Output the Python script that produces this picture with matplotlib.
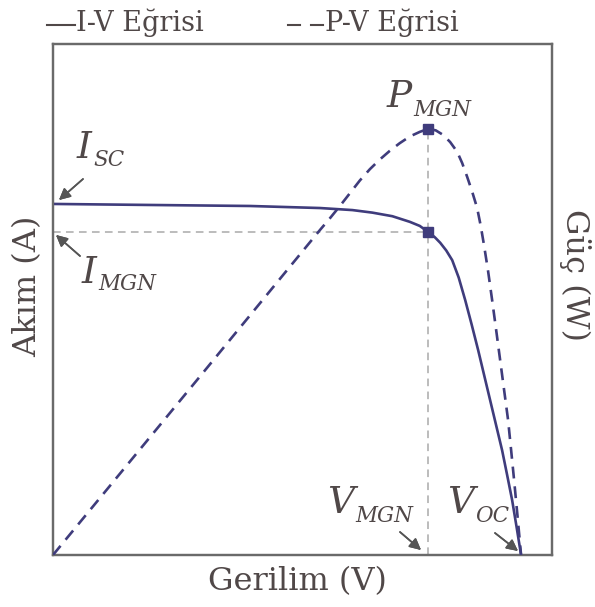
import matplotlib
matplotlib.use("Agg")
import matplotlib.pyplot as plt
from matplotlib.lines import Line2D

# I-V characteristic (normalised voltage / current)
voltage_iv = [0.0, 0.194, 0.395, 0.535, 0.600, 0.640, 0.680, 0.715, 0.735,
              0.752, 0.765, 0.776, 0.788, 0.800, 0.813, 0.826, 0.839, 0.852,
              0.864, 0.876, 0.888, 0.900, 0.910, 0.920, 0.929, 0.938]
current_iv = [0.687, 0.685, 0.683, 0.679, 0.675, 0.670, 0.663, 0.652, 0.644,
              0.632, 0.622, 0.611, 0.596, 0.577, 0.543, 0.499, 0.451, 0.401,
              0.352, 0.303, 0.254, 0.205, 0.157, 0.108, 0.055, 0.0]

# P-V characteristic (normalised voltage / power)
voltage_pv = [0.0, 0.295, 0.535, 0.555, 0.575, 0.595, 0.615, 0.635, 0.655,
              0.675, 0.695, 0.715, 0.735, 0.752, 0.767, 0.782, 0.796, 0.810,
              0.820, 0.830, 0.840, 0.850, 0.857, 0.864, 0.872, 0.880, 0.888,
              0.896, 0.904, 0.912, 0.918, 0.924, 0.931, 0.938]
power_pv = [0.0, 0.350, 0.636, 0.659, 0.683, 0.708, 0.733, 0.755, 0.774,
            0.791, 0.806, 0.819, 0.828, 0.834, 0.831, 0.822, 0.808, 0.789,
            0.767, 0.740, 0.711, 0.679, 0.645, 0.605, 0.555, 0.499, 0.441,
            0.382, 0.323, 0.264, 0.206, 0.147, 0.075, 0.0]

# Key operating points
v_mgn = 0.752
i_mgn = 0.632
p_mgn = 0.834
i_sc = 0.687
v_oc = 0.938

legend_labels = ["I-V Eğrisi", "P-V Eğrisi"]
x_label = "Gerilim (V)"
y_label_left = "Akım (A)"
y_label_right = "Güç (W)"

CURVE = "#3f3c7c"
TEXT = "#504848"
GUIDE = "#aaaaaa"
SPINE = "#6a6a6a"
FONT = "DejaVu Serif"

W, H = 595, 607
fig = plt.figure(figsize=(W / 100, H / 100), dpi=100)


def fp(x, y):
    """pixel position -> figure fraction"""
    return (x / W, 1 - y / H)


left, top, right, bottom = 53, 44, 552, 555
ax = fig.add_axes([left / W, 1 - bottom / H, (right - left) / W, (bottom - top) / H])
ax2 = ax.twinx()
for a in (ax, ax2):
    a.set_xlim(0, 1)
    a.set_ylim(0, 1)
    a.set_xticks([])
    a.set_yticks([])
    for s in a.spines.values():
        s.set_color(SPINE)
        s.set_linewidth(1.6)

# guide lines to the maximum power point
ax.plot([0, v_mgn], [i_mgn, i_mgn], color=GUIDE, lw=1.1, ls=(0, (5, 3.5)), zorder=1)
ax.plot([v_mgn, v_mgn], [0, p_mgn], color=GUIDE, lw=1.1, ls=(0, (5, 3.5)), zorder=1)

ax.plot(voltage_iv, current_iv, color=CURVE, lw=1.9, solid_joinstyle="round", zorder=3)
ax2.plot(voltage_pv, power_pv, color=CURVE, lw=1.9, ls=(0, (4.5, 3)),
         dash_joinstyle="round", zorder=3)
ax.plot([v_mgn], [i_mgn], marker="s", ms=7, color=CURVE, zorder=4)
ax2.plot([v_mgn], [p_mgn], marker="s", ms=7, color=CURVE, zorder=4)

# legend drawn across the top
fig.add_artist(Line2D([47 / W, 75 / W], [1 - 25 / H] * 2, color=TEXT, lw=1.5))
fig.text(76 / W, 1 - 31 / H, legend_labels[0], ha="left", va="baseline",
         fontsize=19.5, family=FONT, color=TEXT)
for x0, x1 in ((288, 300), (311, 323)):
    fig.add_artist(Line2D([x0 / W, x1 / W], [1 - 25 / H] * 2, color=TEXT, lw=1.5))
fig.text(325 / W, 1 - 31 / H, legend_labels[1], ha="left", va="baseline",
         fontsize=19.5, family=FONT, color=TEXT)

# axis titles
fig.text(*fp(297, 582), x_label, ha="center", va="center",
         fontsize=23, family=FONT, color=TEXT)
fig.text(*fp(28, 286), y_label_left, ha="center", va="center", rotation=90,
         fontsize=23, family=FONT, color=TEXT)
fig.text(*fp(575, 275), y_label_right, ha="center", va="center", rotation=-90,
         fontsize=23, family=FONT, color=TEXT)

# point labels: (main letter, subscript, letter x, baseline y, subscript baseline y)
labels = [
    ("I", "SC", 77, 158, 166),
    ("I", "MGN", 82, 283, 290),
    ("P", "MGN", 387, 107, 116),
    ("V", "MGN", 327, 513, 522),
    ("V", "OC", 447, 513, 522),
]
renderer = fig.canvas.get_renderer()
for main, sub, mx, my, sy in labels:
    t = fig.text(mx / W, 1 - my / H, main, ha="left", va="baseline", fontsize=27,
                 family=FONT, style="italic", color=TEXT)
    x_end = t.get_window_extent(renderer).x1
    fig.text((x_end + 1) / W, 1 - sy / H, sub, ha="left", va="baseline",
             fontsize=15.5, family=FONT, style="italic", color=TEXT)

arrows = [
    ((83, 179), (59, 200)),
    ((80, 256), (56, 235)),
    ((400, 532), (421, 550)),
    ((495, 533), (518, 551)),
]
for tail, head in arrows:
    fig.add_artist(plt.annotate(
        "", xy=fp(*head), xytext=fp(*tail),
        xycoords="figure fraction", textcoords="figure fraction",
        arrowprops=dict(arrowstyle="-|>", color="#555555", lw=1.2,
                        mutation_scale=17, shrinkA=0, shrinkB=0)))

fig.savefig("out.png", dpi=100)
